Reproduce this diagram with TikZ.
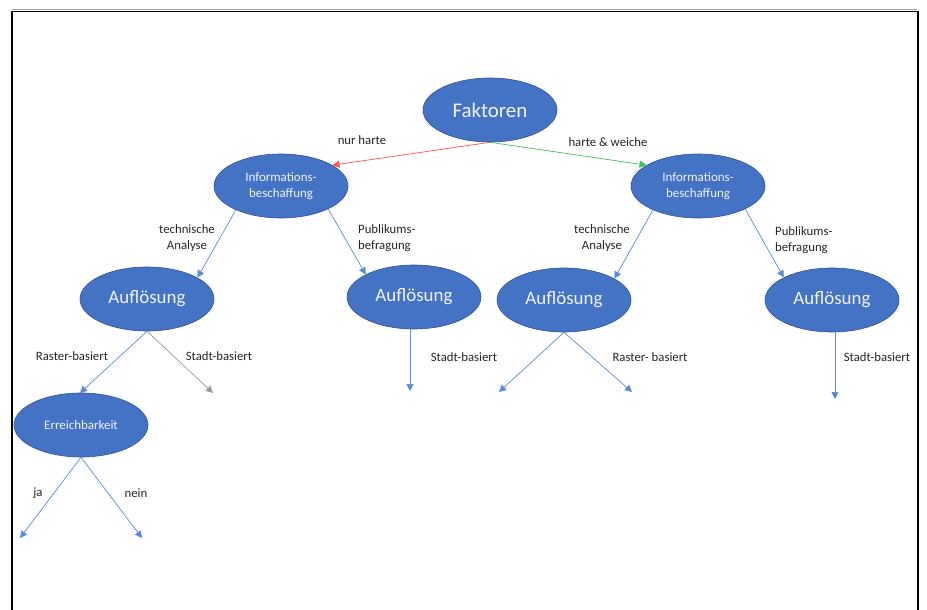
\documentclass[tikz,border=0pt]{standalone}
\usepackage{fontspec}
\setmainfont{Carlito}
\usetikzlibrary{shapes.geometric,arrows.meta}
\definecolor{ofblue}{HTML}{4472C4}
\definecolor{ofedge}{HTML}{2F528F}
\definecolor{arrblue}{HTML}{5B8AD6}
\definecolor{arrred}{HTML}{FF5050}
\definecolor{arrgreen}{HTML}{3CC060}
\definecolor{arrgray}{HTML}{9A9A9A}
\tikzset{
  blob/.style={ellipse, fill=ofblue, draw=ofedge, line width=0.6pt, minimum width=134bp, minimum height=64bp, inner sep=0pt, text=white!92!ofblue, align=center},
  bigtxt/.style={font=\fontsize{21}{24}\selectfont},
  midtxt/.style={font=\fontsize{19}{22}\selectfont},
  smalltxt/.style={font=\fontsize{13}{15.5}\selectfont},
  lbl/.style={font=\fontsize{12.8}{15.5}\selectfont, text=black!85, inner sep=0pt},
  conn/.style={draw=arrblue, line width=0.7pt, -{Triangle[length=7bp,width=7bp]}},
  colconn/.style={line width=0.7pt, -{Triangle[length=7bp,width=7bp]}, draw=#1, color=#1},
}
\begin{document}
\begin{tikzpicture}[x=1bp,y=-1bp]
\useasboundingbox (0,0) rectangle (927,610);
\fill[white] (0,0) rectangle (927,610);
\draw[gray!70, line width=0.8pt] (12,9) -- (917,9);
\draw[black, line width=2pt] (12,625) -- (12,11.5) -- (918,11.5) -- (918,625);

% nodes
\node[blob, bigtxt] (fak) at (490,110) {Faktoren};
\node[blob, smalltxt] (infL) at (281,186) {Informations-\\beschaffung};
\node[blob, smalltxt] (infR) at (698,186) {Informations-\\beschaffung};
\node[blob, midtxt] (aLL) at (147,299) {Auflösung};
\node[blob, midtxt] (aLR) at (414,297) {Auflösung};
\node[blob, midtxt] (aRL) at (564,300) {Auflösung};
\node[blob, midtxt] (aRR) at (832,300) {Auflösung};
\node[blob, smalltxt] (err) at (81,425) {Erreichbarkeit};

% free ends
\coordinate (eLLa) at (80,393);
\coordinate (eLLb) at (213,393);
\coordinate (eLR) at (410,391);
\coordinate (eRLa) at (499,392);
\coordinate (eRLb) at (632,392);
\coordinate (eRR) at (835,399);
\coordinate (eja) at (20,538);
\coordinate (enein) at (142,538);

% connectors
\draw[colconn=arrred] (fak.south) -- (infL.22);
\draw[colconn=arrgreen] (fak.south) -- (infR.158);
\draw[conn] (infL.208) -- (aLL.23);
\draw[conn] (infL.334) -- (aLR.155);
\draw[conn] (infR.208) -- (aRL.23);
\draw[conn] (infR.334) -- (aRR.155);
\draw[conn] (aLL.south) -- (eLLa);
\draw[colconn=arrgray] (aLL.south) -- (eLLb);
\draw[conn] (aLR.south -| eLR) -- (eLR);
\draw[conn] (aRL.south) -- (eRLa);
\draw[conn] (aRL.south) -- (eRLb);
\draw[conn] (aRR.south -| eRR) -- (eRR);
\draw[conn] (err.south) -- (eja);
\draw[conn] (err.south) -- (enein);

% labels
\node[lbl] (l1) at (362,140) {nur harte};
\node[lbl] (l2) at (608,142) {harte \& weiche};
\node[lbl, align=center] (l3) at (187,238) {technische\\Analyse};
\node[lbl, align=left, anchor=west] (l4) at (358,238) {Publikums-\\befragung};
\node[lbl, align=center] (l5) at (602,238) {technische\\Analyse};
\node[lbl, align=left, anchor=west] (l6) at (775,240) {Publikums-\\befragung};
\node[lbl] (l7) at (72,356) {Raster-basiert};
\node[lbl] (l8) at (219,356) {Stadt-basiert};
\node[lbl] (l9) at (464,357) {Stadt-basiert};
\node[lbl] (l10) at (650,357) {Raster- basiert};
\node[lbl] (l11) at (877,357) {Stadt-basiert};
\node[lbl] (l12) at (38,493) {ja};
\node[lbl] (l13) at (136,493) {nein};
\end{tikzpicture}
\end{document}
